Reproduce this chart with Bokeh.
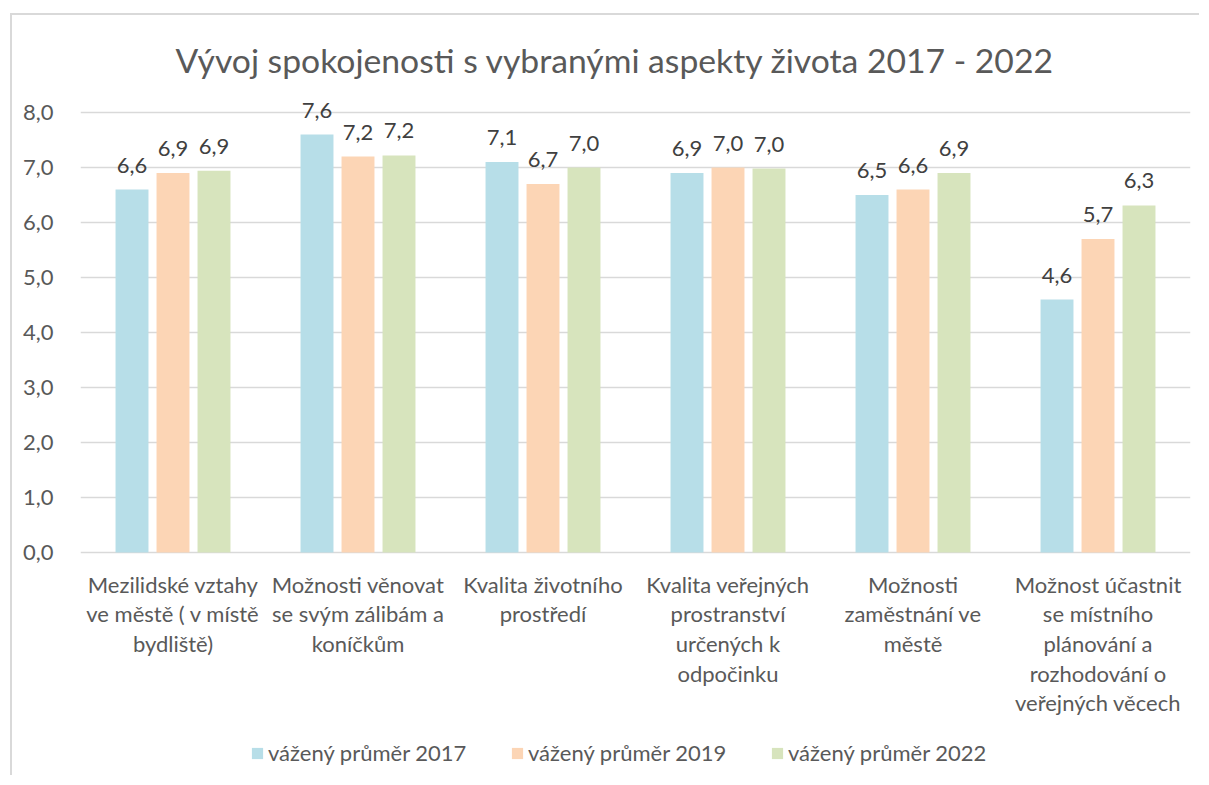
from bokeh.plotting import figure
from bokeh.models import (FactorRange, Range1d, ColumnDataSource, LabelSet, Legend,
                          LegendItem, FixedTicker)
from bokeh.transform import dodge
from bokeh.embed import file_html
from bokeh.resources import INLINE
from bokeh.core.properties import value

categories = [
    "Mezilidské vztahy\nve městě ( v místě\nbydliště)",
    "Možnosti věnovat\nse svým zálibám a\nkoníčkům",
    "Kvalita životního\nprostředí",
    "Kvalita veřejných\nprostranství\nurčených k\nodpočinku",
    "Možnosti\nzaměstnání ve\nměstě",
    "Možnost účastnit\nse místního\nplánování a\nrozhodování o\nveřejných věcech",
]
v2017 = [6.6, 7.6, 7.1, 6.9, 6.5, 4.6]
v2019 = [6.9, 7.2, 6.7, 7.0, 6.6, 5.7]
v2022 = [6.94, 7.22, 7.0, 6.98, 6.9, 6.31]
series_names = ["vážený průměr 2017", "vážený průměr 2019", "vážený průměr 2022"]
colors = ["#B7DEE8", "#FCD5B5", "#D7E4BD"]
y_ticks = [0, 1, 2, 3, 4, 5, 6, 7, 8]
y_tick_labels = ["0,0", "1,0", "2,0", "3,0", "4,0", "5,0", "6,0", "7,0", "8,0"]
title_text = "Vývoj spokojenosti s vybranými aspekty života 2017 - 2022"

FONT = "Lato"
TXT = "#595959"


def fmt(v):
    return ("%.1f" % v).replace(".", ",")


src = ColumnDataSource(data=dict(
    cat=categories,
    v2017=v2017, v2019=v2019, v2022=v2022,
    l2017=[fmt(v) for v in v2017],
    l2019=[fmt(v) for v in v2019],
    l2022=[fmt(v) for v in v2022],
))

# frame extends below zero so that the category labels and legend sit inside it
p = figure(
    x_range=FactorRange(*categories, range_padding=0),
    y_range=Range1d(-4.0, 8.2),
    width=1189, height=762,
    min_border_left=68, min_border_right=11,
    min_border_top=86, min_border_bottom=5,
    output_backend="svg", toolbar_location=None,
    margin=(13, 0, 0, 10),
    styles={"border-left": "2px solid #D9D9D9", "border-top": "2px solid #D9D9D9"},
)
p.outline_line_color = None
p.background_fill_color = "white"
p.border_fill_color = "white"

p.title.text = title_text
p.title.align = "left"
p.title.offset = 95
p.title.standoff = 43
p.title.text_font = FONT
p.title.text_font_size = "33.7px"
p.title.text_font_style = "normal"
p.title.text_color = TXT

p.xgrid.grid_line_color = None
p.ygrid.grid_line_color = "#D9D9D9"
p.ygrid.grid_line_width = 1.3
p.ygrid.ticker = FixedTicker(ticks=y_ticks)

p.yaxis.ticker = FixedTicker(ticks=y_ticks)
p.yaxis.major_label_overrides = {t: l for t, l in zip(y_ticks, y_tick_labels)}
p.yaxis.axis_line_color = None
p.yaxis.major_tick_line_color = None
p.yaxis.minor_tick_line_color = None
p.yaxis.major_label_standoff = 21
p.yaxis.major_label_text_font = FONT
p.yaxis.major_label_text_font_size = "22px"
p.yaxis.major_label_text_color = TXT

p.xaxis.fixed_location = 0
p.xaxis.axis_line_color = None
p.xaxis.major_tick_line_color = None
p.xaxis.minor_tick_line_color = None
p.xaxis.major_label_standoff = 12
p.xaxis.major_label_text_font = FONT
p.xaxis.major_label_text_font_size = "22px"
p.xaxis.major_label_text_color = TXT
p.xaxis.major_label_text_line_height = 1.1

offsets = [-0.2216, 0.0, 0.2216]
cols = ["v2017", "v2019", "v2022"]
lcols = ["l2017", "l2019", "l2022"]
renderers = []
for off, col, lcol, c in zip(offsets, cols, lcols, colors):
    r = p.vbar(x=dodge("cat", off, range=p.x_range), top=col, width=0.178,
               source=src, fill_color=c, line_color=None)
    renderers.append(r)
    p.add_layout(LabelSet(x=dodge("cat", off, range=p.x_range), y=col, text=lcol,
                          source=src, text_align="center", text_baseline="alphabetic",
                          y_offset=17, text_font=value(FONT), text_font_size="22px",
                          text_color="#404040"))

legend = Legend(
    items=[LegendItem(label=n, renderers=[r]) for n, r in zip(series_names, renderers)],
    orientation="horizontal", location=(170, 6),
    glyph_width=14, glyph_height=14, label_standoff=4, spacing=37,
    label_width=205, label_height=14,
    padding=0, margin=0, border_line_color=None, background_fill_alpha=0,
    label_text_font=FONT, label_text_font_size="22px", label_text_color=TXT,
)
p.add_layout(legend, "center")

open("out.html", "w").write(file_html(p, INLINE))
